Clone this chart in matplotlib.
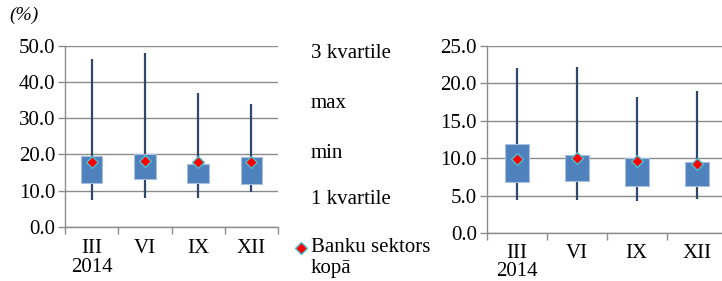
import numpy as np
import matplotlib
matplotlib.use('Agg')
import matplotlib.pyplot as plt
from matplotlib.ticker import MultipleLocator, FixedLocator

plt.rcParams['font.family'] = 'serif'
plt.rcParams['font.serif'] = ['Liberation Serif', 'DejaVu Serif']
plt.rcParams['font.size'] = 15

labels = ['III\n2014', 'VI', 'IX', 'XII']

# left panel
l_max = [46.3, 48.0, 37.0, 33.9]
l_min = [7.5, 7.9, 7.9, 9.5]
l_q3 = [19.5, 20.0, 17.3, 19.2]
l_q1 = [12.0, 13.1, 12.0, 11.8]
l_mean = [18.0, 18.1, 17.9, 18.0]

# right panel
r_max = [22.0, 22.2, 18.1, 19.0]
r_min = [4.5, 4.5, 4.3, 4.6]
r_q3 = [11.95, 10.4, 10.0, 9.5]
r_q1 = [6.9, 7.0, 6.35, 6.25]
r_mean = [9.9, 10.0, 9.6, 9.3]

legend_items = ['3 kvartile', 'max', 'min', '1 kvartile']

W, H = 722, 281
fig = plt.figure(figsize=(W/100, H/100), dpi=100)

grid_c = '#8c8c8c'
box_c = '#4f81bd'
line_c = '#30486a'


def panel(rect, mx, mn, q3, q1, mean, top, step, pad, ls):
    ax = fig.add_axes(rect)
    x = np.arange(len(labels)) + 0.5
    ax.vlines(x, mn, mx, color=line_c, lw=1.6, zorder=2)
    ax.bar(x, np.array(q3) - np.array(q1), bottom=q1, width=0.4,
           color=box_c, edgecolor='#a7c0de', lw=0.8, zorder=3)
    ax.scatter(x, mean, marker='D', s=36, color='#ff0000',
               edgecolor='#4bc0d0', lw=1.0, zorder=4)
    ax.set_xlim(0, len(labels))
    ax.set_ylim(0, top)
    ax.yaxis.set_major_locator(MultipleLocator(step))
    ax.yaxis.set_major_formatter(matplotlib.ticker.FormatStrFormatter('%.1f'))
    ax.grid(axis='y', color=grid_c, lw=1.0)
    ax.set_axisbelow(True)
    for s in ['top', 'right']:
        ax.spines[s].set_visible(False)
    for s in ['left', 'bottom']:
        ax.spines[s].set_color(grid_c)
        ax.spines[s].set_linewidth(1.0)
    ax.xaxis.set_major_locator(FixedLocator(np.arange(len(labels) + 1)))
    ax.xaxis.set_major_formatter(matplotlib.ticker.NullFormatter())
    ax.set_xticks(x, labels, minor=True)
    ax.tick_params(axis='x', which='major', length=5, width=1.0, color=grid_c)
    ax.tick_params(axis='x', which='minor', length=0, pad=pad)
    ax.tick_params(axis='y', length=5, width=1.0, color=grid_c, pad=2)
    for t in ax.get_xticklabels(minor=True):
        t.set_linespacing(ls)
    return ax


ax1 = panel([65/W, (H-226.7)/H, (278-65)/W, (226.7-46)/H],
            l_max, l_min, l_q3, l_q1, l_mean, 50, 10, 9, 1.0)
ax2 = panel([486.7/W, (H-233.3)/H, 240/W, (233.3-45.7)/H],
            r_max, r_min, r_q3, r_q1, r_mean, 25, 5, 8, 0.9)

fig.text(9/W, 1 - 15/H, '(%)', style='italic', fontsize=14, va='center')

ys = [54, 103, 153, 200]
for t, y in zip(legend_items, ys):
    fig.text(311/W, 1 - y/H, t, va='center', fontsize=15)
fig.text(311/W, 1 - 248/H, 'Banku sektors', va='center', fontsize=15)
fig.text(311/W, 1 - 268/H, 'kopā', va='center', fontsize=15)
fig.lines.append(matplotlib.lines.Line2D([301/W], [1 - 248/H], marker='D',
                 ms=6, color='#ff0000', mec='#4bc0d0', mew=1.0,
                 transform=fig.transFigure))

fig.savefig('out.png', dpi=100)
